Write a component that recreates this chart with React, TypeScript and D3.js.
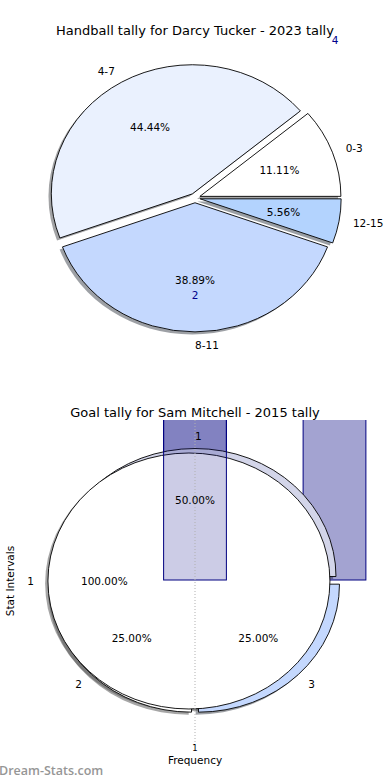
import React, { useEffect, useRef } from "react";
import * as d3 from "d3";

// top chart: handball tally
const handballLabels = ["0-3", "4-7", "8-11", "12-15"];
const handballValues = [2, 8, 7, 1];
const handballColors = ["#ffffff", "#eaf1fe", "#c4d8fe", "#b3d3fe"];

// bottom chart: goal tally (two pies stacked on each other)
const goalOuterLabels = ["1", "2", "3"];
const goalOuterValues = [2, 1, 1];
const goalOuterColors = ["#d3d5e9", "#ffffff", "#c4d8fe"];
const goalInnerLabels = ["1"];
const goalInnerValues = [1];
const goalInnerColors = ["#ffffff"];

// bars behind / in front of the goal pies
const backBarPos = [1, 2];
const backBarValues = [1.5, 1.5];
const frontBarPos = [1];
const frontBarValues = [1.5];
const freqTicks = [1];

const FONT = "DejaVu Sans, Verdana, sans-serif";

type PieOpts = {
  values: number[];
  labels: string[];
  colors: string[];
  cx: number;
  cy: number;
  rx: number;
  ry: number;
  explode: number;
};

function shade(c: string) {
  const col = d3.rgb(c);
  return `rgba(${Math.round(col.r * 0.3)},${Math.round(col.g * 0.3)},${Math.round(col.b * 0.3)},0.5)`;
}

function pieParts(o: PieOpts) {
  const total = d3.sum(o.values);
  const arcs = d3.pie<number>().sort(null)
    .startAngle(Math.PI / 2)
    .endAngle(Math.PI / 2 - 2 * Math.PI)(o.values);
  return arcs.map((a, i) => {
    const m = (a.startAngle + a.endAngle) / 2;
    const ux = Math.sin(m);
    const uy = -Math.cos(m);
    const ox = o.cx + ux * o.explode * o.rx;
    const oy = o.cy + uy * o.explode * o.ry;
    return { a, i, ux, uy, ox, oy, pct: (o.values[i] / total) * 100 };
  });
}

function drawShadows(g: any, o: PieOpts) {
  const arc = d3.arc<any>().innerRadius(0).outerRadius(1);
  pieParts(o).forEach(p => {
    g.append("path")
      .attr("d", arc(p.a as any))
      .attr("transform", `translate(${p.ox - 0.02 * o.rx},${p.oy + 0.02 * o.ry}) scale(${o.rx},${o.ry})`)
      .attr("fill", shade(o.colors[p.i]));
  });
}

function drawWedges(g: any, o: PieOpts) {
  const arc = d3.arc<any>().innerRadius(0).outerRadius(1);
  pieParts(o).forEach(p => {
    g.append("path")
      .attr("d", arc(p.a as any))
      .attr("transform", `translate(${p.ox},${p.oy}) scale(${o.rx},${o.ry})`)
      .attr("fill", o.colors[p.i])
      .attr("stroke", "#000")
      .attr("stroke-width", 0.9)
      .attr("vector-effect", "non-scaling-stroke");
  });
}

function drawLabels(g: any, o: PieOpts) {
  pieParts(o).forEach(p => {
    g.append("text")
      .attr("x", p.ox + p.ux * 1.1 * o.rx)
      .attr("y", p.oy + p.uy * 1.1 * o.ry)
      .attr("text-anchor", p.ux > -1e-9 ? "start" : "end")
      .attr("dominant-baseline", "central")
      .style("font-size", "10.5px")
      .attr("fill", "#000")
      .text(o.labels[p.i]);
    g.append("text")
      .attr("x", p.ox + p.ux * 0.6 * o.rx)
      .attr("y", p.oy + p.uy * 0.6 * o.ry)
      .attr("text-anchor", "middle")
      .attr("dominant-baseline", "central")
      .style("font-size", "10.5px")
      .attr("fill", "#000")
      .text(p.pct.toFixed(2) + "%");
  });
}

export default function App() {
  const ref = useRef<SVGSVGElement | null>(null);

  useEffect(() => {
    document.body.style.margin = "0";
    const svg = d3.select(ref.current as any);
    svg.selectAll("*").remove();
    svg.attr("viewBox", "0 0 390 780").style("font-family", FONT);
    svg.append("rect").attr("width", 390).attr("height", 780).attr("fill", "#fff");

    // ---------- top chart ----------
    svg.append("text")
      .attr("x", 195).attr("y", 30)
      .attr("text-anchor", "middle").attr("dominant-baseline", "central")
      .style("font-size", "13px").text("Handball tally for Darcy Tucker - 2023 tally");

    const topPie: PieOpts = {
      values: handballValues, labels: handballLabels, colors: handballColors,
      cx: 195, cy: 198, rx: 141, ry: 129, explode: 0.037,
    };
    const gTop = svg.append("g");
    drawShadows(gTop, topPie);
    drawWedges(gTop, topPie);
    drawLabels(gTop, topPie);

    gTop.append("text").attr("x", 335).attr("y", 40)
      .attr("text-anchor", "middle").attr("dominant-baseline", "central")
      .style("font-size", "10.5px").attr("fill", "#00008b").text(String(handballValues[1] / 2));
    gTop.append("text").attr("x", 195).attr("y", 295)
      .attr("text-anchor", "middle").attr("dominant-baseline", "central")
      .style("font-size", "10.5px").attr("fill", "#00008b").text(String(handballValues[0]));

    // ---------- bottom chart ----------
    svg.append("text")
      .attr("x", 195).attr("y", 412)
      .attr("text-anchor", "middle").attr("dominant-baseline", "central")
      .style("font-size", "13px").text("Goal tally for Sam Mitchell - 2015 tally");

    const axTop = 420;
    const axBottom = 742;
    const x = d3.scaleLinear().domain([1, 2]).range([195, 334.5]);
    const y = d3.scaleLinear().domain([0, 1]).range([580, axTop]);
    const barW = x(1.45) - x(1);

    svg.append("defs").append("clipPath").attr("id", "axclip")
      .append("rect").attr("x", 0).attr("y", axTop).attr("width", 390).attr("height", axBottom - axTop);

    const gB = svg.append("g").attr("clip-path", "url(#axclip)");

    const outerPie: PieOpts = {
      values: goalOuterValues, labels: goalOuterLabels, colors: goalOuterColors,
      cx: 195, cy: 581, rx: 141, ry: 128, explode: 0.035,
    };
    const innerPie: PieOpts = {
      values: goalInnerValues, labels: goalInnerLabels, colors: goalInnerColors,
      cx: 195, cy: 581, rx: 141, ry: 128, explode: 0.043,
    };

    drawShadows(gB, outerPie);
    drawShadows(gB, innerPie);

    gB.selectAll(".backbar").data(backBarPos).enter().append("rect")
      .attr("x", (d: number) => x(d) - barW / 2)
      .attr("y", (_: number, i: number) => y(backBarValues[i]))
      .attr("width", barW)
      .attr("height", (_: number, i: number) => y(0) - y(backBarValues[i]))
      .attr("fill", "rgba(0,0,128,0.36)")
      .attr("stroke", "#000080").attr("stroke-width", 1);

    drawWedges(gB, outerPie);
    drawWedges(gB, innerPie);

    gB.selectAll(".frontbar").data(frontBarPos).enter().append("rect")
      .attr("x", (d: number) => x(d) - barW / 2)
      .attr("y", (_: number, i: number) => y(frontBarValues[i]))
      .attr("width", barW)
      .attr("height", (_: number, i: number) => y(0) - y(frontBarValues[i]))
      .attr("fill", "rgba(0,0,128,0.2)")
      .attr("stroke", "#000080").attr("stroke-width", 1);

    // grid line + tick
    freqTicks.forEach(t => {
      svg.append("line")
        .attr("x1", x(t)).attr("x2", x(t)).attr("y1", axTop).attr("y2", axBottom)
        .attr("stroke", "#b0b0b0").attr("stroke-width", 1).attr("stroke-dasharray", "1,2");
      svg.append("text").attr("x", x(t)).attr("y", axBottom + 6)
        .attr("text-anchor", "middle").attr("dominant-baseline", "central")
        .style("font-size", "8.5px").text(String(t));
    });

    const gL = svg.append("g");
    drawLabels(gL, outerPie);
    drawLabels(gL, innerPie);

    svg.append("text").attr("x", 195).attr("y", 760)
      .attr("text-anchor", "middle").attr("dominant-baseline", "central")
      .style("font-size", "10.5px").text("Frequency");
    svg.append("text")
      .attr("transform", "translate(10,581) rotate(-90)")
      .attr("text-anchor", "middle").attr("dominant-baseline", "central")
      .style("font-size", "10.5px").text("Stat Intervals");

    svg.append("text").attr("x", -1).attr("y", 770)
      .attr("dominant-baseline", "central")
      .style("font-family", "'Open Sans', sans-serif")
      .style("font-size", "12.5px").style("font-weight", "600")
      .attr("fill", "#969696").text("Dream-Stats.com");
  }, []);

  return (
    <div style={{ position: "absolute", left: 0, top: 0 }}>
      <svg ref={ref} width={390} height={780} style={{ display: "block" }} />
    </div>
  );
}
